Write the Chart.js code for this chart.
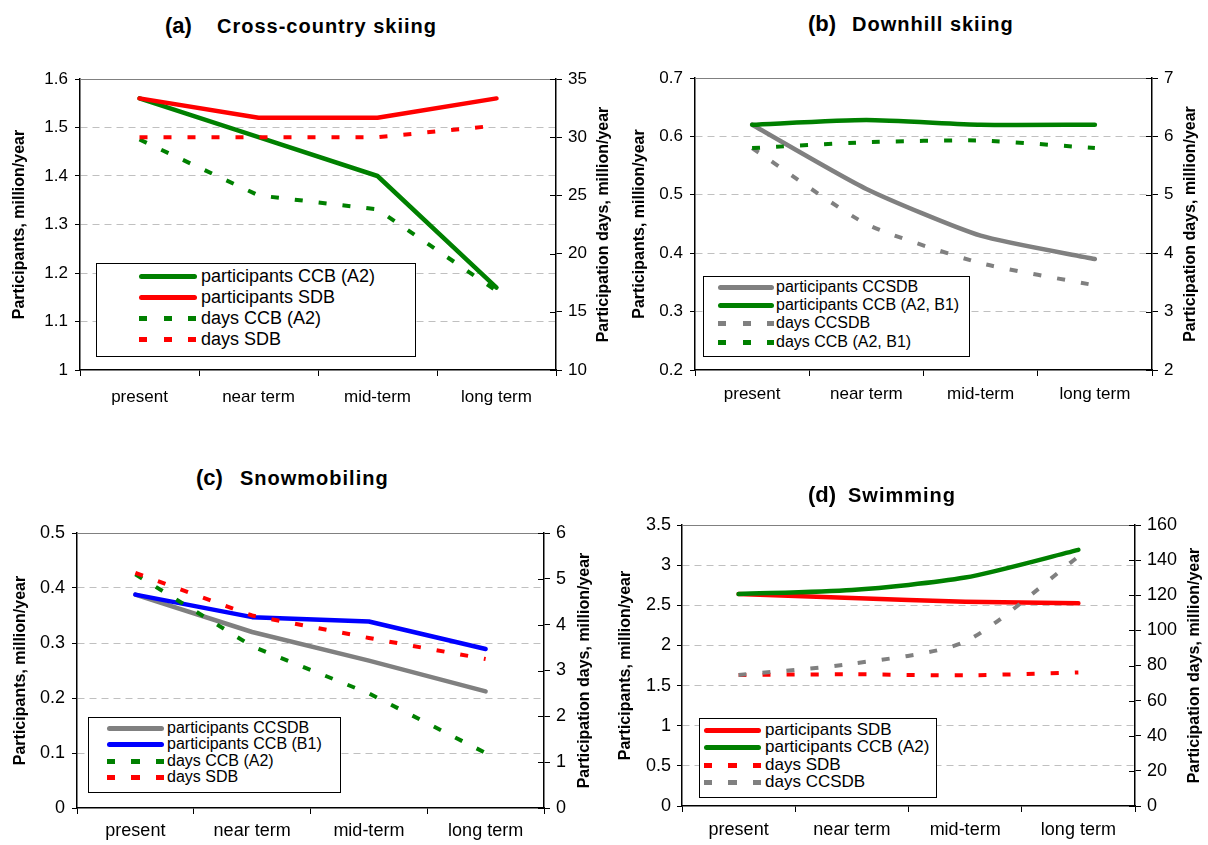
<!DOCTYPE html>
<html>
<head>
<meta charset="utf-8">
<title>Participation scenarios</title>
<script src="https://cdn.jsdelivr.net/npm/chart.js@4.4.0/dist/chart.umd.min.js"></script>
<style>
  body { margin: 0; background: #fff; width: 1208px; height: 845px; position: relative; overflow: hidden; font-family: "Liberation Sans", Arial, sans-serif; }
  .panel { position: absolute; }
  .tag, .name { position: absolute; font-weight: bold; white-space: nowrap; line-height: 26px; height: 26px; }
  .tag { font-size: 22px; }
  .name { font-size: 20px; letter-spacing: 1px; }
  .legend { position: absolute; background: #fff; border: 1.5px solid #000; box-sizing: border-box; z-index: 5; }
  .sample { position: absolute; z-index: 6; }
  .ltext { position: absolute; white-space: nowrap; color: #000; z-index: 6; line-height: 20px; height: 20px; }
</style>
</head>
<body>
<script>
// Shared categories
const categories = ['present', 'near term', 'mid-term', 'long term'];

// (a) Cross-country skiing
const aPartCCB = [1.56, 1.48, 1.40, 1.17];
const aPartSDB = [1.56, 1.52, 1.52, 1.56];
const aDaysCCB = [29.8, 25.0, 23.8, 16.8];
const aDaysSDB = [30, 30, 30, 31];

// (b) Downhill skiing
const bPartCCSDB = [0.62, 0.51, 0.43, 0.39];
const bPartCCB = [0.62, 0.628, 0.62, 0.62];
const bDaysCCSDB = [5.8, 4.5, 3.83, 3.45];
const bDaysCCB = [5.8, 5.9, 5.93, 5.8];

// (c) Snowmobiling
const cPartCCSDB = [0.388, 0.32, 0.268, 0.212];
const cPartCCB = [0.388, 0.347, 0.339, 0.289];
const cDaysCCB = [5.1, 3.53, 2.5, 1.2];
const cDaysSDB = [5.13, 4.2, 3.71, 3.25];

// (d) Swimming
const dPartSDB = [2.64, 2.59, 2.545, 2.525];
const dPartCCB = [2.64, 2.69, 2.845, 3.19];
const dDaysSDB = [74.6, 75, 74.4, 76];
const dDaysCCSDB = [74.6, 81, 93.6, 142];

// Axis ranges [min, max, step]
const aLeft = [1, 1.6, 0.1], aRight = [10, 35, 5];
const bLeft = [0.2, 0.7, 0.1], bRight = [2, 7, 1];
const cLeft = [0, 0.5, 0.1], cRight = [0, 6, 1];
const dLeft = [0, 3.5, 0.5], dRight = [0, 160, 20];

const leftTitle = 'Participants, million/year';
const rightTitle = 'Participation days, million/year';

const GREEN = '#008000', RED = '#ff0000', GRAY = '#808080', BLUE = '#0000ff';
const FONT = '"Liberation Sans", Arial, sans-serif';

Chart.defaults.font.family = FONT;
Chart.defaults.color = '#000';

// rotated right-hand axis title (reads bottom to top like the left one)
const rightTitlePlugin = {
    id: 'rightTitle',
    afterDraw(chart, args, opts) {
        const { ctx, chartArea } = chart;
        ctx.save();
        ctx.translate(opts.x, (chartArea.top + chartArea.bottom) / 2);
        ctx.rotate(-Math.PI / 2);
        ctx.textAlign = 'center';
        ctx.textBaseline = 'middle';
        ctx.fillStyle = '#000';
        ctx.font = 'bold ' + opts.size + 'px ' + FONT;
        ctx.fillText(opts.text, 0, 0);
        ctx.restore();
    }
};

// top frame line + inner half of right-axis tick marks
const framePlugin = {
    id: 'frame',
    afterDatasetsDraw(chart) {
        const { ctx, chartArea } = chart;
        const y1 = chart.scales.y1;
        ctx.save();
        ctx.strokeStyle = '#808080';
        ctx.lineWidth = 1;
        ctx.beginPath();
        ctx.moveTo(chartArea.left, Math.round(chartArea.top) + 0.5);
        ctx.lineTo(chartArea.right, Math.round(chartArea.top) + 0.5);
        ctx.stroke();
        ctx.strokeStyle = '#000';
        y1.ticks.forEach(t => {
            const y = Math.round(y1.getPixelForValue(t.value)) + 0.5;
            ctx.beginPath();
            ctx.moveTo(chartArea.right - 6, y);
            ctx.lineTo(chartArea.right, y);
            ctx.stroke();
        });
        ctx.restore();
    }
};

function series(label, data, color, dashed, axis, tension, idx) {
    return {
        label, data,
        borderColor: color,
        borderWidth: dashed ? 4 : 4.5,
        borderDash: dashed ? [8, 16] : [],
        borderCapStyle: dashed ? 'butt' : 'round',
        borderJoinStyle: 'round',
        pointRadius: 0,
        fill: false,
        tension,
        yAxisID: axis,
        order: 10 - idx
    };
}

function fmt(v) {
    return String(Math.round(v * 100) / 100);
}

function makePanel(lay, left, right, datasets) {
    const div = document.createElement('div');
    div.className = 'panel';
    div.style.left = lay.x0 + 'px';
    div.style.top = lay.y0 + 'px';
    div.style.width = lay.w + 'px';
    div.style.height = lay.h + 'px';
    const canvas = document.createElement('canvas');
    canvas.width = lay.w;
    canvas.height = lay.h;
    canvas.style.width = lay.w + 'px';
    canvas.style.height = lay.h + 'px';
    div.appendChild(canvas);
    document.body.appendChild(div);

    const font = { family: FONT, size: lay.tickFont };

    new Chart(canvas, {
        type: 'line',
        data: { labels: categories, datasets },
        plugins: [rightTitlePlugin, framePlugin],
        options: {
            animation: false,
            responsive: false,
            devicePixelRatio: 1,
            layout: { padding: { top: lay.T - lay.y0, left: 0, right: 0, bottom: 0 } },
            plugins: {
                legend: { display: false },
                tooltip: { enabled: false },
                rightTitle: { text: rightTitle, x: lay.rightTitleX - lay.x0, size: lay.titleFont }
            },
            scales: {
                x: {
                    type: 'category',
                    offset: true,
                    grid: { offset: true, drawOnChartArea: false, tickLength: 6, tickColor: '#000', color: '#000' },
                    border: { color: '#000', width: 1.5 },
                    ticks: { font, color: '#000', padding: lay.xPad, maxRotation: 0, autoSkip: false },
                    afterFit: s => { s.height = lay.y0 + lay.h - lay.B; }
                },
                y: {
                    position: 'left',
                    min: left[0], max: left[1],
                    ticks: { stepSize: left[2], font, color: '#000', padding: lay.yPad, callback: fmt },
                    grid: {
                        tickLength: 5,
                        tickColor: '#000',
                        color: c => (c.tick && (c.tick.value >= left[1] - 1e-9 || c.tick.value <= left[0] + 1e-9)) ? 'rgba(0,0,0,0)' : '#c0c0c0'
                    },
                    border: { color: '#000', width: 1.5, dash: [7, 5] },
                    title: {
                        display: true, text: leftTitle, color: '#000',
                        font: { family: FONT, size: lay.titleFont, weight: 'bold' },
                        padding: { top: lay.leftTitleX - lay.x0 - lay.titleFont * 0.6, bottom: 0 }
                    },
                    afterFit: s => { s.width = lay.L - lay.x0; }
                },
                y1: {
                    position: 'right',
                    min: right[0], max: right[1],
                    ticks: { stepSize: right[2], font, color: '#000', padding: 6, callback: fmt },
                    grid: { drawOnChartArea: false, tickLength: 6, tickColor: '#000', color: '#000' },
                    border: { color: '#000', width: 1.5 },
                    afterFit: s => { s.width = lay.x0 + lay.w - lay.R; }
                }
            }
        }
    });
}

function addTitle(tag, name, tagX, nameX, cy) {
    const t = document.createElement('div');
    t.className = 'tag';
    t.textContent = tag;
    t.style.left = tagX + 'px';
    t.style.top = (cy - 13) + 'px';
    document.body.appendChild(t);
    const n = document.createElement('div');
    n.className = 'name';
    n.textContent = name;
    n.style.left = nameX + 'px';
    n.style.top = (cy - 13) + 'px';
    document.body.appendChild(n);
}

function addLegend(box, labels, colors, dashes, size) {
    const b = document.createElement('div');
    b.className = 'legend';
    b.style.left = box.left + 'px';
    b.style.top = box.top + 'px';
    b.style.width = box.width + 'px';
    b.style.height = box.height + 'px';
    document.body.appendChild(b);
    labels.forEach((label, i) => {
        const y = box.rows[i];
        const s = document.createElement('div');
        s.className = 'sample';
        s.style.left = box.sampleLeft + 'px';
        s.style.width = box.sampleWidth + 'px';
        s.style.height = '5px';
        s.style.top = (y - 2.5) + 'px';
        if (dashes[i]) {
            s.style.background = 'repeating-linear-gradient(90deg,' + colors[i] + ' 0 8px, transparent 8px 24.5px)';
        } else {
            s.style.borderRadius = '2.5px';
            s.style.background = colors[i];
        }
        document.body.appendChild(s);
        const t = document.createElement('div');
        t.className = 'ltext';
        t.textContent = label;
        t.style.left = box.textLeft + 'px';
        t.style.top = (y - 10) + 'px';
        t.style.fontSize = size + 'px';
        document.body.appendChild(t);
    });
}

// ---- (a)
makePanel(
    { x0: 0, y0: 50, w: 620, h: 370, L: 80, R: 556, T: 79, B: 370, leftTitleX: 20, rightTitleX: 604, tickFont: 17, titleFont: 16, yPad: 7, xPad: 11 },
    aLeft, aRight,
    [
        series('participants CCB (A2)', aPartCCB, GREEN, false, 'y', 0, 0),
        series('participants SDB', aPartSDB, RED, false, 'y', 0, 1),
        series('days CCB (A2)', aDaysCCB, GREEN, true, 'y1', 0, 2),
        series('days SDB', aDaysSDB, RED, true, 'y1', 0, 3)
    ]
);
addTitle('(a)', 'Cross-country skiing', 165, 217, 26);
addLegend({ left: 96, top: 263, width: 320, height: 94, rows: [276, 297, 318, 339], sampleLeft: 139, sampleWidth: 58, textLeft: 201 },
    ['participants CCB (A2)', 'participants SDB', 'days CCB (A2)', 'days SDB'],
    [GREEN, RED, GREEN, RED], [false, false, true, true], 18);

// ---- (b)
makePanel(
    { x0: 600, y0: 50, w: 608, h: 370, L: 695, R: 1152, T: 78, B: 370, leftTitleX: 640, rightTitleX: 1191, tickFont: 17, titleFont: 16, yPad: 7, xPad: 8 },
    bLeft, bRight,
    [
        series('participants CCSDB', bPartCCSDB, GRAY, false, 'y', 0.2, 0),
        series('participants CCB (A2, B1)', bPartCCB, GREEN, false, 'y', 0.2, 1),
        series('days CCSDB', bDaysCCSDB, GRAY, true, 'y1', 0.2, 2),
        series('days CCB (A2, B1)', bDaysCCB, GREEN, true, 'y1', 0.2, 3)
    ]
);
addTitle('(b)', 'Downhill skiing', 808, 852, 24);
addLegend({ left: 703, top: 276, width: 267, height: 81, rows: [287, 305, 323, 342], sampleLeft: 718, sampleWidth: 56, textLeft: 776 },
    ['participants CCSDB', 'participants CCB (A2, B1)', 'days CCSDB', 'days CCB (A2, B1)'],
    [GRAY, GREEN, GRAY, GREEN], [false, false, true, true], 16);

// ---- (c)
makePanel(
    { x0: 0, y0: 500, w: 620, h: 345, L: 77, R: 544, T: 533, B: 808, leftTitleX: 21, rightTitleX: 585, tickFont: 18, titleFont: 16, yPad: 7, xPad: 6 },
    cLeft, cRight,
    [
        series('participants CCSDB', cPartCCSDB, GRAY, false, 'y', 0, 0),
        series('participants CCB (B1)', cPartCCB, BLUE, false, 'y', 0, 1),
        series('days CCB (A2)', cDaysCCB, GREEN, true, 'y1', 0, 2),
        series('days SDB', cDaysSDB, RED, true, 'y1', 0, 3)
    ]
);
addTitle('(c)', 'Snowmobiling', 196, 240, 478);
addLegend({ left: 88, top: 717, width: 253, height: 76, rows: [728, 744, 761, 777], sampleLeft: 107, sampleWidth: 57, textLeft: 167 },
    ['participants CCSDB', 'participants CCB (B1)', 'days CCB (A2)', 'days SDB'],
    [GRAY, BLUE, GREEN, RED], [false, false, true, true], 16);

// ---- (d)
makePanel(
    { x0: 600, y0: 500, w: 608, h: 345, L: 682, R: 1135, T: 525, B: 806, leftTitleX: 626, rightTitleX: 1195, tickFont: 18, titleFont: 16, yPad: 6, xPad: 7 },
    dLeft, dRight,
    [
        series('participants SDB', dPartSDB, RED, false, 'y', 0.25, 0),
        series('participants CCB (A2)', dPartCCB, GREEN, false, 'y', 0.25, 1),
        series('days SDB', dDaysSDB, RED, true, 'y1', 0.25, 2),
        series('days CCSDB', dDaysCCSDB, GRAY, true, 'y1', 0.25, 3)
    ]
);
addTitle('(d)', 'Swimming', 808, 848, 495);
addLegend({ left: 699, top: 718, width: 238, height: 80, rows: [730, 747, 765, 782], sampleLeft: 704, sampleWidth: 57, textLeft: 765 },
    ['participants SDB', 'participants CCB (A2)', 'days SDB', 'days CCSDB'],
    [RED, GREEN, RED, GRAY], [false, false, true, true], 17);
</script>
</body>
</html>
